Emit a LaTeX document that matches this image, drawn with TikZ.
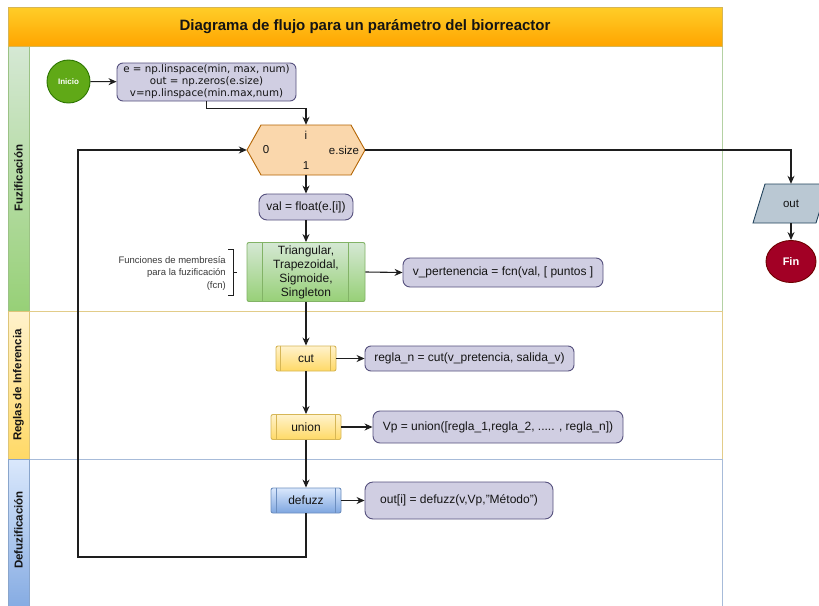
\documentclass[tikz,border=0pt]{standalone}
\usepackage{fontspec}
\setmainfont{Liberation Sans}
\newfontfamily\codefont{DejaVu Sans}
\usetikzlibrary{shapes.geometric,arrows.meta}

% palette
\definecolor{linecol}{HTML}{1E1E1E}
\definecolor{textcol}{HTML}{141414}
\definecolor{boxfill}{HTML}{D0CEE2}
\definecolor{boxline}{HTML}{56517E}
\definecolor{hexfill}{HTML}{FAD7AC}
\definecolor{hexline}{HTML}{B46504}
\definecolor{greentop}{HTML}{D5E8D4}
\definecolor{greenbot}{HTML}{97D077}
\definecolor{greenline}{HTML}{82B366}
\definecolor{yeltop}{HTML}{FFF2CC}
\definecolor{yelbot}{HTML}{FFD966}
\definecolor{yelline}{HTML}{D6B656}
\definecolor{bluetop}{HTML}{DAE8FC}
\definecolor{bluebot}{HTML}{7EA6E0}
\definecolor{blueline}{HTML}{6C8EBF}
\definecolor{titletop}{HTML}{FFCD28}
\definecolor{titlebot}{HTML}{FFA500}
\definecolor{startfill}{HTML}{60A917}
\definecolor{startline}{HTML}{2D7600}
\definecolor{endfill}{HTML}{A20025}
\definecolor{endline}{HTML}{6F0000}
\definecolor{iofill}{HTML}{BAC8D3}
\definecolor{ioline}{HTML}{23445D}
\definecolor{notecol}{HTML}{3A3A3A}

\newcommand{\fs}[2]{\fontsize{#1}{#2}\selectfont}

\begin{document}
\begin{tikzpicture}[x=1pt,y=-1pt,
  flow/.style={draw=linecol, line width=1.1pt, -{Stealth[length=8pt,width=7pt]}},
  codebox/.style={rectangle, rounded corners=6pt, draw=boxline, fill=boxfill,
    line width=0.9pt, inner sep=0pt, align=center, text=textcol, font=\fs{12}{14}},
  procbox/.style={rectangle, rounded corners=2pt, line width=0.9pt, inner sep=0pt,
    align=center, text=textcol, font=\fs{12}{14}},
  greenproc/.style={procbox, top color=greentop, bottom color=greenbot, draw=greenline},
  yelproc/.style={procbox, top color=yeltop, bottom color=yelbot, draw=yelline},
  blueproc/.style={procbox, top color=bluetop, bottom color=bluebot, draw=blueline},
  procline/.style={line width=0.8pt},
  lanelabel/.style={rotate=90, font=\bfseries\fs{11.5}{13}, text=textcol},
  hexlabel/.style={font=\fs{11.5}{13}, text=textcol, inner sep=0pt},
]
\useasboundingbox (0,0) rectangle (819,605);
\fill[white] (0,0) rectangle (819,605);

% swimlanes
\draw[draw=greenline!60, line width=0.9pt] (8,46) rectangle (722,311);
\draw[draw=yelline!70, line width=0.9pt] (8,311) rectangle (722,459);
\draw[draw=blueline!60, line width=0.9pt] (8,459) rectangle (722,620);
\shade[top color=greentop, bottom color=greenbot, draw=greenline!80] (8,46) rectangle (29,311);
\shade[top color=yeltop, bottom color=yelbot, draw=yelline!80] (8,311) rectangle (29,459);
\shade[top color=bluetop, bottom color=bluebot, draw=blueline!80] (8,459) rectangle (29,620);
\node[lanelabel] (laneA) at (18.5,178) {Fuzificación};
\node[lanelabel] (laneB) at (18.5,385) {Reglas de Inferencia};
\node[lanelabel] (laneC) at (18.5,530) {Defuzificación};

% title bar
\node[rectangle, minimum width=714pt, minimum height=39pt, inner sep=0pt,
  top color=titletop, bottom color=titlebot, draw=yelline, line width=0.8pt,
  font=\bfseries\fs{15}{17}, text=textcol] (title) at (365,26.5)
  {Diagrama de flujo para un parámetro del biorreactor};

% start and initialisation
\node[circle, minimum size=43pt, inner sep=0pt, fill=startfill, draw=startline,
  line width=0.9pt, text=white, font=\bfseries\fs{8}{9}] (inicio) at (68.5,81.5) {Inicio};
\node[codebox, minimum width=179pt, minimum height=38pt, font=\codefont\fs{10.3}{12}]
  (init) at (206.5,82) {e = np.linspace(min, max, num)\\out = np.zeros(e.size)\\v=np.linspace(min.max,num)};

% loop hexagon
\filldraw[fill=hexfill, draw=hexline, line width=0.9pt]
  (247,150) -- (261,125) -- (351,125) -- (365,150) -- (351,175) -- (261,175) -- cycle;
\node[minimum width=118pt, minimum height=50pt, inner sep=0pt] (hex) at (306,150) {};
\node[hexlabel] (hexI) at (306,135) {i};
\node[hexlabel] (hexZero) at (266,150) {0};
\node[hexlabel] (hexEnd) at (344,150) {e.size};
\node[hexlabel] (hexOne) at (306,166) {1};

% fuzzification
\node[codebox, rounded corners=8pt, minimum width=94pt, minimum height=26pt] (val) at (306,207) {val = float(e.[i])};
\node[greenproc, minimum width=118pt, minimum height=59pt, font=\fs{12}{14}] (fcn) at (306,272)
  {Triangular,\\Trapezoidal,\\Sigmoide,\\Singleton};
\draw[greenline, procline] ([xshift=16pt]fcn.north west) -- ([xshift=16pt]fcn.south west);
\draw[greenline, procline] ([xshift=-17pt]fcn.north east) -- ([xshift=-17pt]fcn.south east);
\node[codebox, rounded corners=7pt, minimum width=200pt, minimum height=29pt] (pert) at (503,272.5)
  {v\_pertenencia = fcn(val, [ puntos ]};

% annotation bracket
\draw[linecol, line width=1pt] (228,249) -- (233,249) -- (233,295) -- (228,295);
\draw[linecol, line width=1pt] (233,272) -- (237,272);
\node[anchor=east, align=right, inner sep=0pt, text=notecol, font=\fs{9.5}{12.5}] (fcnnote) at (226,273)
  {Funciones de membresía\\para la fuzificación\\(fcn)};

% inference rules
\node[yelproc, minimum width=60pt, minimum height=25pt] (cut) at (306,358.5) {cut};
\draw[yelline, procline] ([xshift=5pt]cut.north west) -- ([xshift=5pt]cut.south west);
\draw[yelline, procline] ([xshift=-6pt]cut.north east) -- ([xshift=-6pt]cut.south east);
\node[codebox, rounded corners=6pt, minimum width=209pt, minimum height=25pt] (regla) at (469.5,358.5)
  {regla\_n = cut(v\_pretencia, salida\_v)};
\node[yelproc, minimum width=70pt, minimum height=25pt] (union) at (306,427) {union};
\draw[yelline, procline] ([xshift=6pt]union.north west) -- ([xshift=6pt]union.south west);
\draw[yelline, procline] ([xshift=-6pt]union.north east) -- ([xshift=-6pt]union.south east);
\node[codebox, rounded corners=7pt, minimum width=250pt, minimum height=32pt] (vp) at (498,427)
  {Vp = union([regla\_1,regla\_2, ..... , regla\_n])};

% defuzzification
\node[blueproc, minimum width=70pt, minimum height=25pt] (defuzz) at (306,500.5) {defuzz};
\draw[blueline, procline] ([xshift=6pt]defuzz.north west) -- ([xshift=6pt]defuzz.south west);
\draw[blueline, procline] ([xshift=-6pt]defuzz.north east) -- ([xshift=-6pt]defuzz.south east);
\node[codebox, rounded corners=8pt, minimum width=188pt, minimum height=37pt] (outi) at (459,500.5)
  {out[i] = defuzz(v,Vp,"Método")};

% output and end
\filldraw[fill=iofill, draw=ioline, line width=0.9pt]
  (765,184) -- (828,184) -- (816,223) -- (753,223) -- cycle;
\node[minimum width=60pt, minimum height=39pt, inner sep=0pt, text=textcol, font=\fs{11.5}{13}] (outp) at (791,203.5) {out};
\node[ellipse, minimum width=50pt, minimum height=42pt, inner sep=0pt, fill=endfill, draw=endline,
  line width=0.9pt, text=white, font=\bfseries\fs{11}{13}] (fin) at (791,261.5) {Fin};

% connectors
\coordinate (loopBL) at (78,557);
\draw[flow] (inicio) -- (init);
\draw[flow] (init.south) -- ++(0,7) -| (hex.north);
\draw[flow] (hex.south) -- (val.north);
\draw[flow] (val.south) -- (fcn.north);
\draw[flow] (fcn.east) -- (pert.west);
\draw[flow] (fcn.south) -- (cut.north);
\draw[flow] (cut.east) -- (regla.west);
\draw[flow] (cut.south) -- (union.north);
\draw[flow] (union.east) -- (vp.west);
\draw[flow] (union.south) -- (defuzz.north);
\draw[flow] (defuzz.east) -- (outi.west);
\draw[flow] (defuzz.south) |- (loopBL) |- (hex.west);
\draw[flow] (hex.east) -| (outp.north);
\draw[flow] (outp.south) -- (fin.north);
\end{tikzpicture}
\end{document}
